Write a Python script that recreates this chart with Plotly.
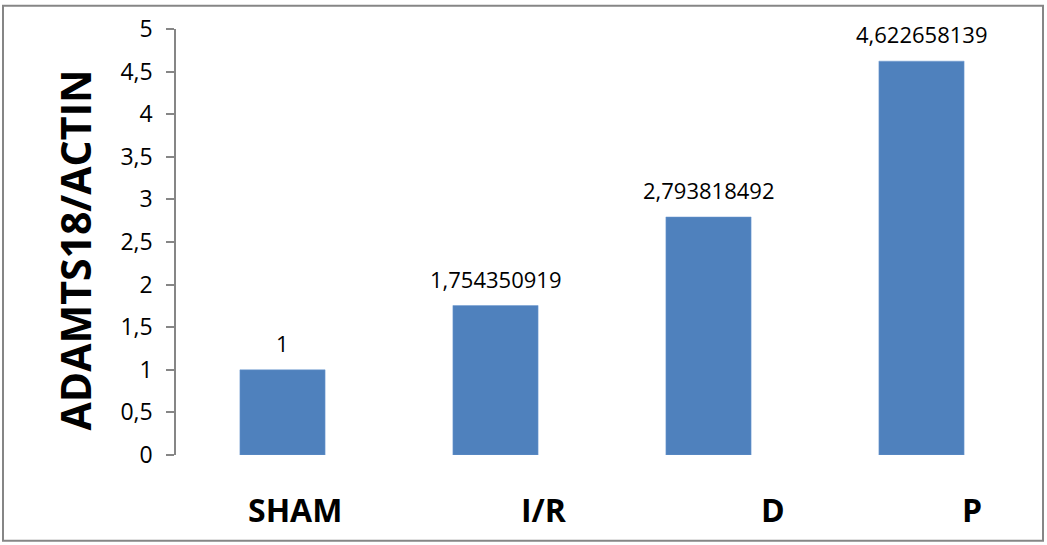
import plotly.graph_objects as go

categories = ["SHAM", "I/R", "D", "P"]
values = [1, 1.754350919, 2.793818492, 4.622658139]
value_labels = ["1", "1,754350919", "2,793818492", "4,622658139"]
y_tick_vals = [0, 0.5, 1, 1.5, 2, 2.5, 3, 3.5, 4, 4.5, 5]
y_tick_text = ["0", "0,5", "1", "1,5", "2", "2,5", "3", "3,5", "4", "4,5", "5"]
y_title = "ADAMTS18/ACTIN"

# layout geometry (pixels)
W, H = 1047, 545
L, R, T, B = 176, 19, 25, 90
pw, ph = W - L - R, H - T - B
Y0 = H - B  # pixel row of y=0
label_xshift = [12, 48, 64, 50]

fig = go.Figure()
fig.add_trace(go.Bar(
    x=categories, y=values,
    marker=dict(color="#4F81BD", line=dict(color="#6E9AD0", width=0.5)),
    width=0.4,
))

# data labels
for c, v, t in zip(categories, values, value_labels):
    fig.add_annotation(x=c, y=v, text=t, showarrow=False, yanchor="middle",
                       yshift=27, font=dict(family="Open Sans", size=22, color="#000000"))

# category labels
for c, s in zip(categories, label_xshift):
    fig.add_annotation(x=c, y=0, yref="y", text="<b>%s</b>" % c, showarrow=False,
                       yanchor="middle", yshift=-(509 - Y0), xshift=s,
                       font=dict(family="Open Sans", size=32, color="#000000"))

# y title
fig.add_annotation(xref="paper", yref="paper", x=(75 - L) / pw, y=(Y0 - 248.5) / ph,
                   text="<b>%s</b>" % y_title, textangle=-90, showarrow=False,
                   xanchor="center", yanchor="middle",
                   font=dict(family="Open Sans", size=41, color="#000000"))

# chart border
fig.add_shape(type="rect", xref="paper", yref="paper",
              x0=(3 - L) / pw, x1=(1043 - L) / pw,
              y0=(Y0 - 541.5) / ph, y1=(Y0 - 1.5) / ph,
              line=dict(color="#868686", width=2), fillcolor="rgba(0,0,0,0)", layer="below")

fig.update_layout(
    width=W, height=H,
    margin=dict(l=L, r=R, t=T, b=B),
    paper_bgcolor="white", plot_bgcolor="white",
    showlegend=False,
    xaxis=dict(showticklabels=False, showgrid=False, zeroline=False, showline=False,
               ticks="", range=[-0.5, 3.5]),
    yaxis=dict(range=[0, 5], tickvals=y_tick_vals, ticktext=y_tick_text,
               showgrid=False, zeroline=False, showline=True, linecolor="#868686",
               linewidth=1.5, ticks="outside", ticklen=8, tickcolor="#868686", tickwidth=1.5,
               ticklabelstandoff=9,
               tickfont=dict(family="Open Sans", size=23, color="#000000")),
)

fig.write_html("out.html")
